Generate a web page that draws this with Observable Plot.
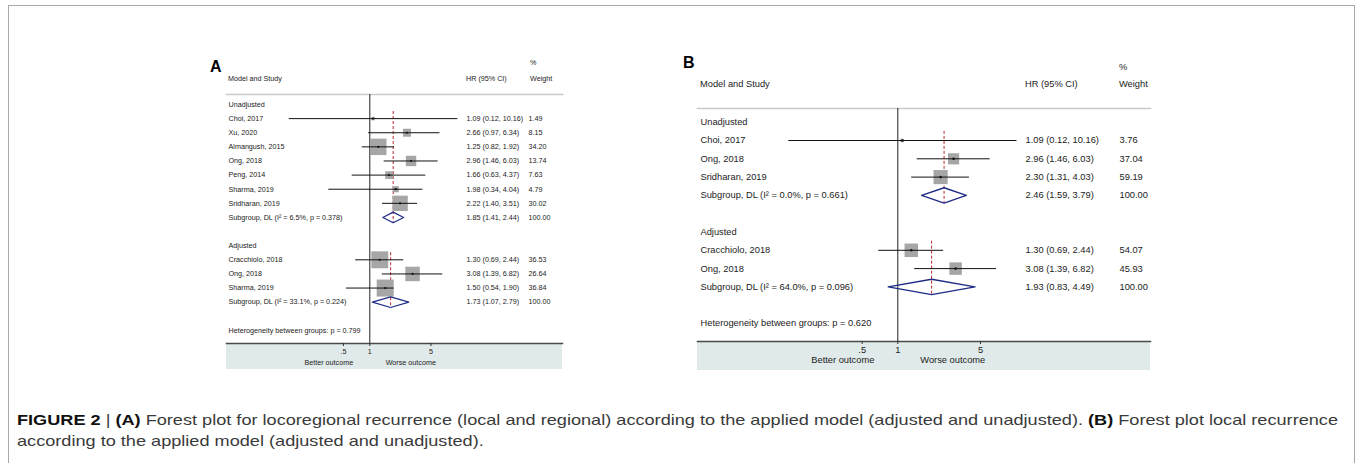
<!DOCTYPE html>
<html><head><meta charset="utf-8">
<script src="https://cdn.jsdelivr.net/npm/d3@7"></script>
<script src="https://cdn.jsdelivr.net/npm/@observablehq/plot@0.6"></script>
<style>
html,body{margin:0;padding:0;background:#fff;}
body{width:1357px;height:463px;overflow:hidden;position:relative;font-family:"Liberation Sans",Arial,sans-serif;color:#222;}
.abs{position:absolute;white-space:nowrap;}
#frame{position:absolute;left:8px;top:5px;width:1345px;height:600px;border:1.5px solid #a8a8a8;border-bottom:none;}
.shade{position:absolute;background:#e1eaea;}
.letter{font-weight:bold;font-size:16px;line-height:16px;color:#000;}
.cap{position:absolute;left:17px;white-space:nowrap;font-family:"Liberation Sans Narrow","Arial Narrow","Liberation Sans",sans-serif;font-size:15px;line-height:16px;color:#3a3a3a;transform-origin:0 50%;}
.cap b{color:#111;}
svg{max-width:none !important;}
</style></head><body>
<div id="frame"></div>
<div id="root"></div>
<div class="cap" id="cap1" style="top:412px"><b>FIGURE 2</b> | <b>(A)</b> Forest plot for locoregional recurrence (local and regional) according to the applied model (adjusted and unadjusted). <b>(B)</b> Forest plot local recurrence</div>
<div class="cap" id="cap2" style="top:433px">according to the applied model (adjusted and unadjusted).</div>
<script>
// ---------- data ----------
const axisTicks = [0.5, 1, 5];
const axisTickLabels = [".5", "1", "5"];
const outcomeLabels = ["Better outcome", "Worse outcome"];
const headerStudy = "Model and Study";
const headerHR = "HR (95% CI)";
const headerPct = "%";
const headerWeight = "Weight";

// Panel A
const groupsA = ["Unadjusted", "Adjusted"];
const studyA = ["Choi, 2017", "Xu, 2020", "Almangush, 2015", "Ong, 2018", "Peng, 2014", "Sharma, 2019", "Sridharan, 2019",
                "Cracchiolo, 2018", "Ong, 2018", "Sharma, 2019"];
const studyGroupA = ["Unadjusted","Unadjusted","Unadjusted","Unadjusted","Unadjusted","Unadjusted","Unadjusted",
                     "Adjusted","Adjusted","Adjusted"];
const hrA = [1.09, 2.66, 1.25, 2.96, 1.66, 1.98, 2.22, 1.30, 3.08, 1.50];
const loA = [0.12, 0.97, 0.82, 1.46, 0.63, 0.34, 1.40, 0.69, 1.39, 0.54];
const hiA = [10.16, 6.34, 1.92, 6.03, 4.37, 4.04, 3.51, 2.44, 6.82, 1.90];
const weightA = [1.49, 8.15, 34.20, 13.74, 7.63, 4.79, 30.02, 36.53, 26.64, 36.84];
const subLabelA = ["Subgroup, DL (I² = 6.5%, p = 0.378)", "Subgroup, DL (I² = 33.1%, p = 0.224)"];
const subHrA = [1.85, 1.73];
const subLoA = [1.41, 1.07];
const subHiA = [2.44, 2.79];
const subWeightA = [100.00, 100.00];
const hetA = "Heterogeneity between groups: p = 0.799";

// Panel B
const groupsB = ["Unadjusted", "Adjusted"];
const studyB = ["Choi, 2017", "Ong, 2018", "Sridharan, 2019", "Cracchiolo, 2018", "Ong, 2018"];
const studyGroupB = ["Unadjusted","Unadjusted","Unadjusted","Adjusted","Adjusted"];
const hrB = [1.09, 2.96, 2.30, 1.30, 3.08];
const loB = [0.12, 1.46, 1.31, 0.69, 1.39];
const hiB = [10.16, 6.03, 4.03, 2.44, 6.82];
const weightB = [3.76, 37.04, 59.19, 54.07, 45.93];
const subLabelB = ["Subgroup, DL (I² = 0.0%, p = 0.661)", "Subgroup, DL (I² = 64.0%, p = 0.096)"];
const subHrB = [2.46, 1.93];
const subLoB = [1.59, 0.83];
const subHiB = [3.79, 4.49];
const subWeightB = [100.00, 100.00];
const hetB = "Heterogeneity between groups: p = 0.620";

// ---------- helpers ----------
function buildRows(groups, study, sg, hr, lo, hi, w, subLabel, subHr, subLo, subHi, subW, het) {
  const rows = []; let r = 0;
  groups.forEach((g, gi) => {
    rows.push({kind: "group", row: r++, label: g});
    const first = r;
    study.forEach((s, i) => {
      if (sg[i] === g) rows.push({kind: "study", row: r++, label: s, hr: hr[i], lo: lo[i], hi: hi[i], w: w[i]});
    });
    rows.push({kind: "sub", row: r++, label: subLabel[gi], hr: subHr[gi], lo: subLo[gi], hi: subHi[gi], w: subW[gi], first});
    r++;
  });
  rows.push({kind: "het", row: r, label: het});
  return rows;
}

const FONT = "'Liberation Sans', Arial, sans-serif";

function forestPanel(rows, L) {
  const lnLo = -L.nullX / L.pxPerLn, lnHi = (L.width - L.nullX) / L.pxPerLn;
  const nRows = d3.max(rows, d => d.row);
  const studies = rows.filter(d => d.kind === "study");
  const subs = rows.filter(d => d.kind === "sub");
  const est = rows.filter(d => d.hr !== undefined);
  const diamonds = subs.flatMap((d, i) => [
    {i, x: d.lo, y: d.row}, {i, x: d.hr, y: d.row - L.dh}, {i, x: d.hi, y: d.row},
    {i, x: d.hr, y: d.row + L.dh}, {i, x: d.lo, y: d.row}
  ]);
  const fmt = v => v.toFixed(2);
  return Plot.plot({
    width: L.width, height: L.height,
    marginLeft: 0, marginRight: 0, marginTop: 0, marginBottom: L.marginBottom,
    style: {background: "transparent", fontFamily: FONT, fontSize: L.fontSize + "px", color: "#222", overflow: "visible"},
    x: {type: "log", domain: [Math.exp(lnLo), Math.exp(lnHi)], range: [0, L.width]},
    y: {domain: [0, nRows], range: [L.row0, L.row0 + nRows * L.rowStep], axis: null},
    r: {type: "sqrt", domain: [0, d3.max(studies, d => d.w)], range: [0, L.rMax]},
    marks: [
      Plot.frame({anchor: "top", stroke: "#c9c9c9", strokeWidth: 1.5}),
      Plot.ruleX(subs, {x: "hr", y1: d => d.first - 0.5, y2: d => d.row + L.dh, stroke: "#b8282d", strokeWidth: 1, strokeDasharray: "3,2"}),
      Plot.ruleX([1], {stroke: "#222", strokeWidth: 1}),
      Plot.dot(studies, {x: "hr", y: "row", r: "w", symbol: "square", fill: "#a6a6a6", stroke: null}),
      Plot.ruleY(studies, {y: "row", x1: "lo", x2: "hi", stroke: "#111", strokeWidth: 1}),
      Plot.dot(studies, {x: "hr", y: "row", r: L.ptR, fill: "#111", stroke: null}),
      Plot.line(diamonds, {x: "x", y: "y", z: "i", stroke: "#1f2d86", strokeWidth: L.dw, curve: "linear"}),
      Plot.text(rows, {y: "row", text: "label", frameAnchor: "left", textAnchor: "start", dx: L.textDx, fill: "#222"}),
      Plot.text(est, {y: "row", text: d => `${fmt(d.hr)} (${fmt(d.lo)}, ${fmt(d.hi)})`, frameAnchor: "left", textAnchor: "start", dx: L.hrCol, fill: "#222"}),
      Plot.text(est, {y: "row", text: d => fmt(d.w), frameAnchor: "left", textAnchor: "start", dx: L.wCol, fill: "#222"}),
      Plot.frame({anchor: "bottom", stroke: "#4a4a4a", strokeWidth: 1.5}),
      // tick marks (labels drawn separately: log scales override custom tick formats)
      Plot.axisX({ticks: axisTicks, tickFormat: () => "", tickSize: 3, stroke: "#333"}),
      Plot.text(axisTicks, {x: d => d, text: (d, i) => axisTickLabels[i], frameAnchor: "bottom", dy: L.tickDy, textAnchor: "middle", fill: "#222"}),
      Plot.text([outcomeLabels[0]], {x: () => 1, text: d => d, frameAnchor: "bottom", dx: -L.outcomeDx, dy: L.outcomeDy, textAnchor: "middle", fill: "#222"}),
      Plot.text([outcomeLabels[1]], {x: () => 1, text: d => d, frameAnchor: "bottom", dx: L.outcomeDx, dy: L.outcomeDy, textAnchor: "middle", fill: "#222"})
    ]
  });
}

function place(el, left, top) {
  el.style.position = "absolute"; el.style.left = left + "px"; el.style.top = top + "px";
  document.getElementById("root").appendChild(el);
  return el;
}
function label(text, left, centerY, size, cls) {
  const d = document.createElement("div");
  d.className = "abs" + (cls ? " " + cls : "");
  d.textContent = text;
  if (size) { d.style.fontSize = size + "px"; d.style.lineHeight = size + "px"; }
  return place(d, left, centerY - (size || 16) / 2);
}
function shade(left, top, width, height) {
  const d = document.createElement("div"); d.className = "shade";
  d.style.width = width + "px"; d.style.height = height + "px";
  return place(d, left, top);
}

// ---------- layouts ----------
const LA = {left: 226, top: 94, width: 336, height: 275, marginBottom: 26, nullX: 143.3, pxPerLn: 38,
  row0: 10, rowStep: 14.12, fontSize: 7.2, textDx: 2, hrCol: 240, wCol: 302, rMax: 9.6, ptR: 1.1,
  dh: 0.38, dw: 1.2, outcomeDx: 41, outcomeDy: 21, tickDy: 10};
const LB = {left: 697, top: 108, width: 453, height: 262, marginBottom: 29, nullX: 200.3, pxPerLn: 51.4,
  row0: 13.7, rowStep: 18.3, fontSize: 9.3, textDx: 3, hrCol: 328, wCol: 422, rMax: 7.98, ptR: 1.3,
  dh: 0.42, dw: 1.4, outcomeDx: 55, outcomeDy: 21, tickDy: 11};

shade(LA.left, LA.top + LA.height - LA.marginBottom, LA.width, LA.marginBottom);
shade(LB.left, LB.top + LB.height - LB.marginBottom, LB.width, LB.marginBottom);

const rowsA = buildRows(groupsA, studyA, studyGroupA, hrA, loA, hiA, weightA, subLabelA, subHrA, subLoA, subHiA, subWeightA, hetA);
const rowsB = buildRows(groupsB, studyB, studyGroupB, hrB, loB, hiB, weightB, subLabelB, subHrB, subLoB, subHiB, subWeightB, hetB);
place(forestPanel(rowsA, LA), LA.left, LA.top);
place(forestPanel(rowsB, LB), LB.left, LB.top);

// headers
label("A", 210, 67, 16, "letter");
label(headerStudy, 228, 79, 7.2);
label(headerHR, 466, 79, 7.2);
label(headerPct, 530, 63, 7.2);
label(headerWeight, 530, 79, 7.2);

label("B", 683, 63, 16, "letter");
label(headerStudy, 700, 85, 9.3);
label(headerHR, 1025, 85, 9.3);
label(headerPct, 1119, 68, 9.3);
label(headerWeight, 1119, 85, 9.3);

// caption fit
function fitCaption() {
  const c1 = document.getElementById("cap1"), c2 = document.getElementById("cap2");
  c1.style.transform = ""; c2.style.transform = "";
  const w = c1.getBoundingClientRect().width;
  const s = 1321 / w;
  c1.style.transform = `scaleX(${s})`; c2.style.transform = `scaleX(${s})`;
}
fitCaption();
if (document.fonts && document.fonts.ready) document.fonts.ready.then(fitCaption);
</script>
</body></html>
